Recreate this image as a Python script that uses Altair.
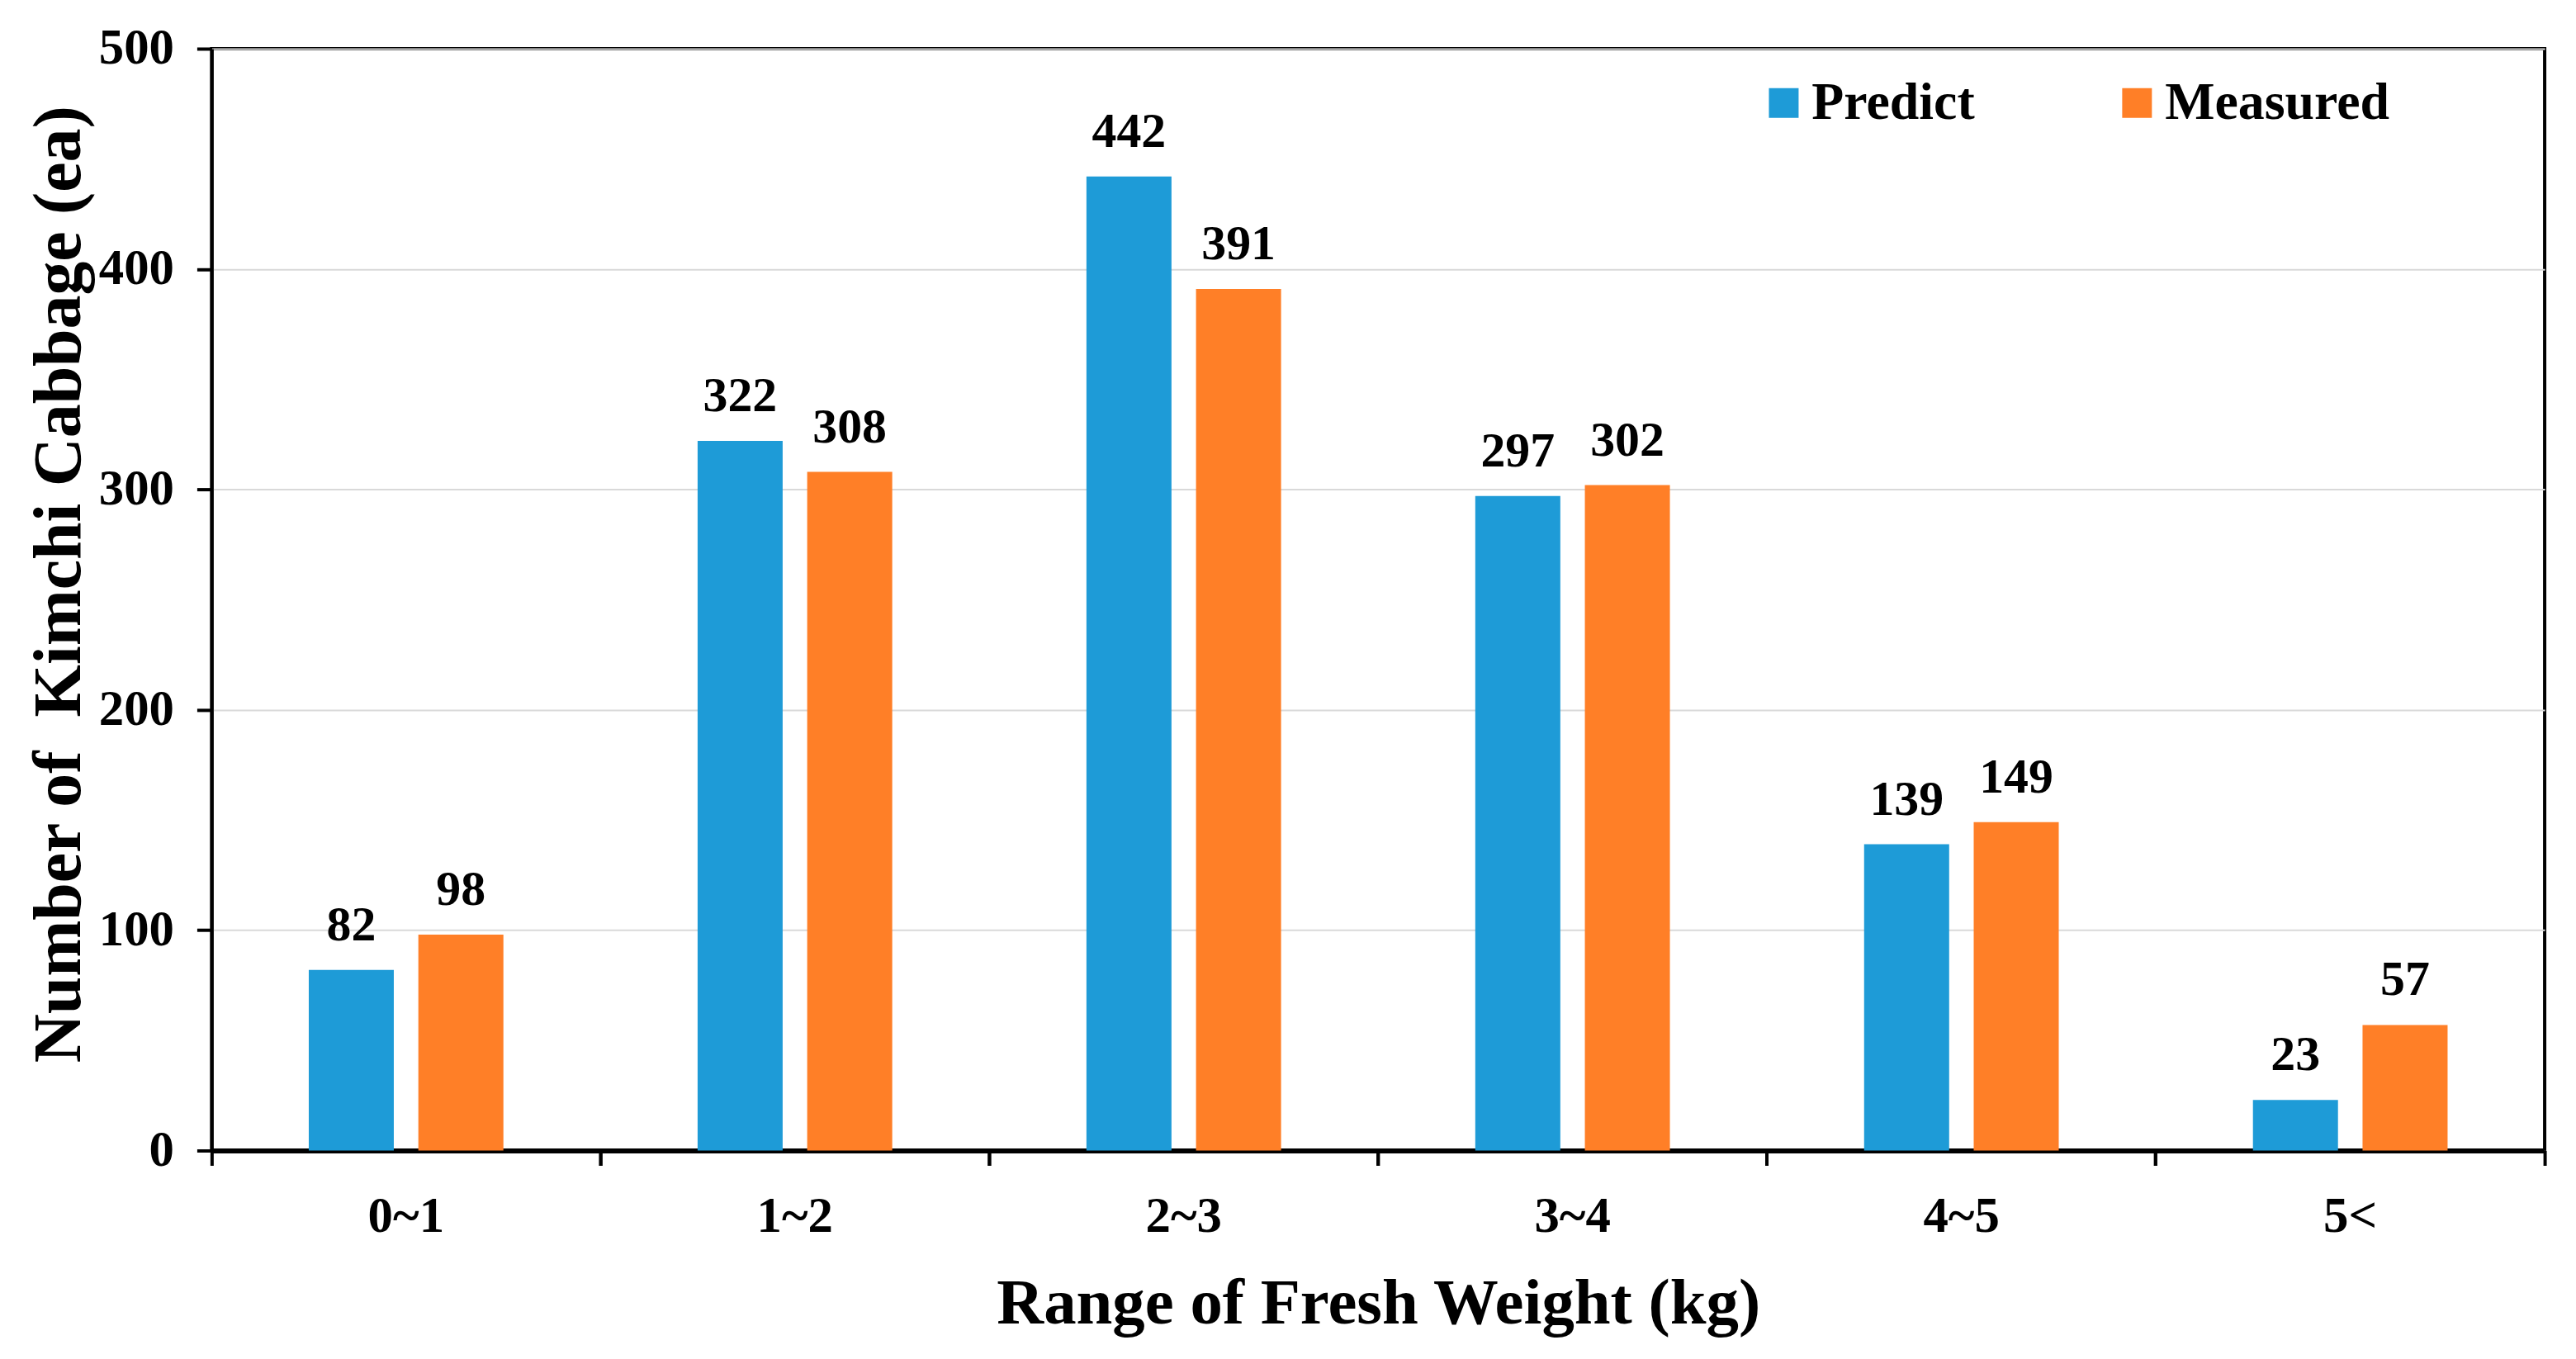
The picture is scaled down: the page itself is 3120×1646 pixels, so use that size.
import altair as alt
import pandas as pd

categories = ["0~1", "1~2", "2~3", "3~4", "4~5", "5<"]
series = ["Predict", "Measured"]
predict = [82, 322, 442, 297, 139, 23]
measured = [98, 308, 391, 302, 149, 57]
colors = ["#1E9BD7", "#FF7F27"]
y_ticks = [0, 100, 200, 300, 400, 500]

rows = []
for c, p, m in zip(categories, predict, measured):
    rows.append({"range": c, "series": "Predict", "count": p})
    rows.append({"range": c, "series": "Measured", "count": m})
df = pd.DataFrame(rows)

FONT = "Liberation Serif"
W, H = 2833, 1338

x_scale = alt.Scale(domain=categories, paddingInner=0, paddingOuter=0)
xo_scale = alt.Scale(domain=series, paddingInner=0.224, paddingOuter=0.886)
y_scale = alt.Scale(domain=[0, 500], nice=False)
color_scale = alt.Scale(domain=series, range=colors)

y_axis = alt.Axis(
    values=y_ticks, grid=True, gridColor="#D9D9D9", gridWidth=2,
    domainColor="black", domainWidth=4, tickColor="black", tickSize=18, tickWidth=4,
    labelFont=FONT, labelFontSize=61, labelFontWeight="bold", labelColor="black", labelPadding=28,
    title="Number of\u00a0 Kimchi Cabbage (ea)", titleFont=FONT, titleFontSize=82,
    titleFontWeight="bold", titleColor="black", titleAngle=-90, titleBaseline="alphabetic",
    titleX=-160, titleY=650, titleAlign="center",
)

x_label_axis = alt.Axis(
    orient="bottom", ticks=False, domain=True, domainColor="black", domainWidth=6,
    labelFont=FONT, labelFontSize=61, labelFontWeight="bold", labelColor="black",
    labelPadding=50, labelAngle=0,
    title="Range of Fresh Weight (kg)", titleFont=FONT, titleFontSize=79,
    titleFontWeight="bold", titleColor="black", titleBaseline="alphabetic", titleY=210,
)


def tick_axis(bp):
    return alt.Axis(
        orient="bottom", labels=False, domain=False, ticks=True, tickColor="black",
        tickSize=18, tickWidth=4, bandPosition=bp, title=None, grid=False,
    )


base = alt.Chart(df)

bars = base.mark_bar().encode(
    x=alt.X("range:N", scale=x_scale, axis=x_label_axis, sort=categories),
    xOffset=alt.XOffset("series:N", scale=xo_scale, sort=series),
    y=alt.Y("count:Q", scale=y_scale, axis=y_axis),
    color=alt.Color(
        "series:N", scale=color_scale, sort=series,
        legend=alt.Legend(
            orient="none", legendX=1877, legendY=34, direction="horizontal", title=None,
            symbolType="square", symbolSize=1300, symbolStrokeWidth=0,
            labelFont=FONT, labelFontSize=64, labelFontWeight="bold", labelColor="black",
            labelOffset=2, columnPadding=165, labelLimit=0,
        ),
    ),
)

labels = base.mark_text(
    baseline="alphabetic", dy=-36, font=FONT, fontSize=60, fontWeight="bold", color="black"
).encode(
    x=alt.X("range:N", scale=x_scale, axis=tick_axis(0), sort=categories),
    xOffset=alt.XOffset("series:N", scale=xo_scale, sort=series),
    y=alt.Y("count:Q", scale=y_scale, axis=y_axis),
    text=alt.Text("count:Q"),
)

ghost = base.mark_bar(opacity=0).encode(
    x=alt.X("range:N", scale=x_scale, axis=tick_axis(1), sort=categories),
    xOffset=alt.XOffset("series:N", scale=xo_scale, sort=series),
    y=alt.Y("count:Q", scale=y_scale, axis=y_axis),
)

chart = (
    alt.layer(bars, labels, ghost)
    .resolve_axis(x="independent")
    .properties(
        width=W, height=H,
        autosize=alt.AutoSizeParams(type="none"),
        padding={"left": 249, "top": 49, "right": 30, "bottom": 245},
        background="white",
    )
    .configure_view(stroke="black", strokeWidth=4)
)

chart.save("out.html", embed_options={"renderer": "svg", "actions": False})
